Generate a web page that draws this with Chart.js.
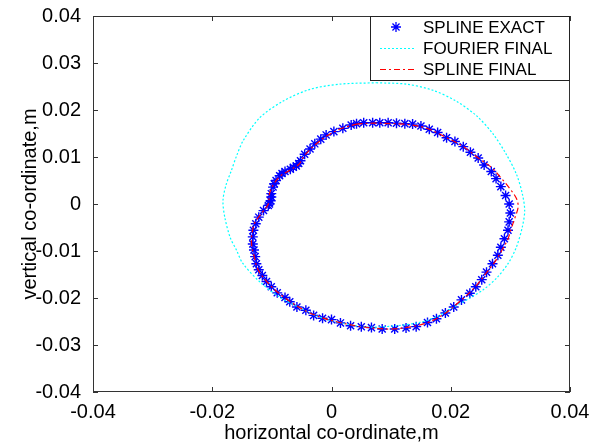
<!DOCTYPE html>
<html>
<head>
<meta charset="utf-8">
<script src="https://cdn.jsdelivr.net/npm/chart.js@4.4.0/dist/chart.umd.min.js"></script>
<style>
  html, body { margin: 0; padding: 0; background: #fff; }
</style>
</head>
<body>
<canvas id="shapeChart" width="602" height="445"></canvas>
<script>
// --- data (metres) ---
const exactX = [0.0042,0.0054,0.0069,0.0081,0.0095,0.0109,0.0123,0.0136,0.0150,0.0164,0.0178,0.0193,0.0207,0.0221,0.0233,0.0246,0.0256,0.0268,0.0276,0.0284,0.0292,0.0298,0.0300,0.0298,0.0296,0.0290,0.0284,0.0279,0.0270,0.0260,0.0252,0.0242,0.0232,0.0218,0.0205,0.0191,0.0176,0.0161,0.0142,0.0125,0.0106,0.0085,0.0067,0.0050,0.0032,0.0015,0.0000,-0.0015,-0.0030,-0.0043,-0.0058,-0.0070,-0.0078,-0.0091,-0.0101,-0.0109,-0.0116,-0.0122,-0.0126,-0.0128,-0.0130,-0.0132,-0.0132,-0.0131,-0.0127,-0.0122,-0.0114,-0.0106,-0.0102,-0.0101,-0.0098,-0.0093,-0.0087,-0.0078,-0.0069,-0.0059,-0.0052,-0.0045,-0.0036,-0.0028,-0.0018,-0.0009,0.0004,0.0019,0.0033,
  -0.0104,-0.0101,-0.0096,-0.0083,-0.0064,-0.0055];
const exactY = [0.0171,0.0173,0.0173,0.0173,0.0173,0.0172,0.0171,0.0170,0.0166,0.0159,0.0152,0.0141,0.0133,0.0122,0.0110,0.0098,0.0083,0.0069,0.0054,0.0037,0.0018,0.0000,-0.0019,-0.0038,-0.0056,-0.0074,-0.0092,-0.0109,-0.0127,-0.0145,-0.0161,-0.0176,-0.0190,-0.0204,-0.0219,-0.0232,-0.0244,-0.0252,-0.0261,-0.0264,-0.0266,-0.0266,-0.0263,-0.0261,-0.0259,-0.0253,-0.0246,-0.0243,-0.0237,-0.0226,-0.0219,-0.0208,-0.0199,-0.0189,-0.0176,-0.0165,-0.0152,-0.0140,-0.0127,-0.0112,-0.0098,-0.0085,-0.0070,-0.0056,-0.0042,-0.0028,-0.0014,-0.0003,0.0007,0.0022,0.0036,0.0050,0.0060,0.0069,0.0074,0.0081,0.0092,0.0106,0.0117,0.0128,0.0138,0.0147,0.0154,0.0161,0.0168,
  0.0000,0.0015,0.0043,0.0065,0.0078,0.0086];

const fourierX = [0.0075,0.0126,0.0170,0.0209,0.0243,0.0271,0.0293,0.0310,0.0320,0.0324,0.0320,0.0310,0.0296,0.0278,0.0255,0.0232,0.0203,0.0176,0.0148,0.0109,0.0064,0.0036,-0.0015,-0.0053,-0.0087,-0.0120,-0.0149,-0.0159,-0.0170,-0.0179,-0.0182,-0.0177,-0.0168,-0.0159,-0.0148,-0.0120,-0.0081,-0.0036,0.0014,0.0075];
const fourierY = [0.0258,0.0255,0.0242,0.0219,0.0188,0.0149,0.0106,0.0064,0.0022,-0.0014,-0.0049,-0.0092,-0.0127,-0.0156,-0.0182,-0.0200,-0.0221,-0.0240,-0.0252,-0.0259,-0.0262,-0.0258,-0.0243,-0.0221,-0.0198,-0.0166,-0.0126,-0.0099,-0.0071,-0.0028,0.0007,0.0040,0.0071,0.0103,0.0135,0.0184,0.0219,0.0244,0.0255,0.0258];

const splineX = [0.0042,0.0070,0.0100,0.0130,0.0160,0.0190,0.0220,0.0245,0.0268,0.0284,0.0299,0.0310,0.0313,0.0308,0.0302,0.0296,0.0286,0.0274,0.0260,0.0242,0.0218,0.0190,0.0160,0.0130,0.0100,0.0070,0.0040,0.0010,-0.0020,-0.0050,-0.0080,-0.0105,-0.0123,-0.0130,-0.0134,-0.0133,-0.0128,-0.0116,-0.0106,-0.0104,-0.0098,-0.0087,-0.0070,-0.0055,-0.0046,-0.0030,-0.0010,0.0015,0.0042];
const splineY = [0.0170,0.0172,0.0171,0.0169,0.0161,0.0143,0.0123,0.0099,0.0078,0.0056,0.0033,0.0012,-0.0006,-0.0028,-0.0050,-0.0074,-0.0098,-0.0123,-0.0146,-0.0175,-0.0204,-0.0233,-0.0253,-0.0262,-0.0266,-0.0264,-0.0259,-0.0251,-0.0240,-0.0223,-0.0198,-0.0170,-0.0140,-0.0110,-0.0085,-0.0060,-0.0038,-0.0018,0.0000,0.0022,0.0040,0.0058,0.0072,0.0084,0.0102,0.0123,0.0143,0.0160,0.0170];

const xTicks = [-0.04, -0.02, 0, 0.02, 0.04];
const yTicks = [-0.04, -0.03, -0.02, -0.01, 0, 0.01, 0.02, 0.03, 0.04];

const seriesNames = ['SPLINE EXACT', 'FOURIER FINAL', 'SPLINE FINAL'];

// --- helpers ---
const toPoints = (xs, ys) => xs.map((x, i) => ({ x: x, y: ys[i] }));
const fmtTick = v => { const n = Number(v.toFixed(2)); return n === 0 ? '0' : String(n); };
const FONT = "'Liberation Sans', Arial, sans-serif";

function drawStar(ctx, x, y, r) {
  ctx.beginPath();
  for (let k = 0; k < 4; k++) {
    const a = k * Math.PI / 4;
    ctx.moveTo(x - r * Math.cos(a), y - r * Math.sin(a));
    ctx.lineTo(x + r * Math.cos(a), y + r * Math.sin(a));
  }
  ctx.stroke();
}

// box round the axes with inward ticks, plus the legend box in the top right
const matlabFrame = {
  id: 'matlabFrame',
  afterDraw(chart) {
    const { ctx, chartArea: a, scales } = chart;
    const x = scales.x, y = scales.y;
    ctx.save();
    ctx.strokeStyle = '#333';
    ctx.lineWidth = 1;
    ctx.strokeRect(a.left + 0.5, a.top + 0.5, a.right - a.left - 1, a.bottom - a.top - 1);
    ctx.beginPath();
    x.ticks.forEach(t => {
      const px = Math.round(x.getPixelForValue(t.value)) + 0.5;
      ctx.moveTo(px, a.bottom); ctx.lineTo(px, a.bottom - 5);
      ctx.moveTo(px, a.top); ctx.lineTo(px, a.top + 5);
    });
    y.ticks.forEach(t => {
      const py = Math.round(y.getPixelForValue(t.value)) + 0.5;
      ctx.moveTo(a.left, py); ctx.lineTo(a.left + 5, py);
      ctx.moveTo(a.right, py); ctx.lineTo(a.right - 5, py);
    });
    ctx.stroke();

    // legend
    const bw = 200, bh = 65;
    const bx = a.right - bw, by = a.top;
    ctx.fillStyle = '#fff';
    ctx.fillRect(bx, by, bw, bh);
    ctx.strokeStyle = '#222';
    ctx.strokeRect(bx + 0.5, by + 0.5, bw - 1, bh - 1);
    ctx.font = '17px ' + FONT;
    ctx.textBaseline = 'middle';
    const ds = chart.data.datasets;
    ds.forEach((d, i) => {
      const ry = by + 11 + i * 21;
      ctx.strokeStyle = d.borderColor;
      ctx.lineWidth = d.showLine ? 1.2 : 1.3;
      if (d.showLine) {
        ctx.setLineDash(d.borderDash || []);
        ctx.beginPath();
        ctx.moveTo(bx + 10, ry + 0.5);
        ctx.lineTo(bx + 44, ry + 0.5);
        ctx.stroke();
        ctx.setLineDash([]);
      } else {
        drawStar(ctx, bx + 26, ry, 5);
      }
      ctx.fillStyle = '#000';
      ctx.fillText(d.label, bx + 53, ry + 1);
    });
    ctx.restore();
  }
};

const axisCommon = {
  type: 'linear',
  min: -0.04,
  max: 0.04,
  grid: { display: false },
  border: { display: false },
  ticks: { color: '#000', font: { family: FONT, size: 20 }, callback: fmtTick, autoSkip: false, maxRotation: 0 },
  title: { display: true, color: '#000', font: { family: FONT, size: 20 } }
};

new Chart(document.getElementById('shapeChart'), {
  type: 'scatter',
  data: {
    datasets: [
      {
        label: seriesNames[0],
        data: toPoints(exactX, exactY),
        showLine: false,
        pointStyle: 'star',
        pointRadius: 5,
        borderColor: '#0000ff',
        backgroundColor: '#0000ff',
        pointBorderWidth: 1.4,
        order: 3
      },
      {
        label: seriesNames[1],
        data: toPoints(fourierX, fourierY),
        showLine: true,
        borderColor: '#00ffff',
        borderWidth: 1.2,
        borderDash: [2, 2],
        tension: 0.3,
        pointRadius: 0,
        order: 2
      },
      {
        label: seriesNames[2],
        data: toPoints(splineX, splineY),
        showLine: true,
        borderColor: '#ff0000',
        borderWidth: 1.2,
        borderDash: [6, 3, 2, 3],
        tension: 0.35,
        pointRadius: 0,
        order: 1
      }
    ]
  },
  options: {
    responsive: false,
    devicePixelRatio: 1,
    animation: false,
    layout: { padding: { top: 15, right: 32, left: 0, bottom: 0 } },
    plugins: { legend: { display: false }, tooltip: { enabled: false } },
    scales: {
      x: {
        ...axisCommon,
        afterBuildTicks: s => { s.ticks = xTicks.map(v => ({ value: v })); },
        afterFit: s => { s.height = 53; },
        ticks: { ...axisCommon.ticks, padding: 0 },
        title: { ...axisCommon.title, text: 'horizontal co-ordinate,m', padding: { top: 0, bottom: 0 } }
      },
      y: {
        ...axisCommon,
        afterBuildTicks: s => { s.ticks = yTicks.map(v => ({ value: v })); },
        afterFit: s => { s.width = 93; },
        ticks: { ...axisCommon.ticks, padding: 4 },
        title: { ...axisCommon.title, text: 'vertical co-ordinate,m', padding: { top: 18, bottom: 0 } }
      }
    }
  },
  plugins: [matlabFrame]
});
</script>
</body>
</html>
